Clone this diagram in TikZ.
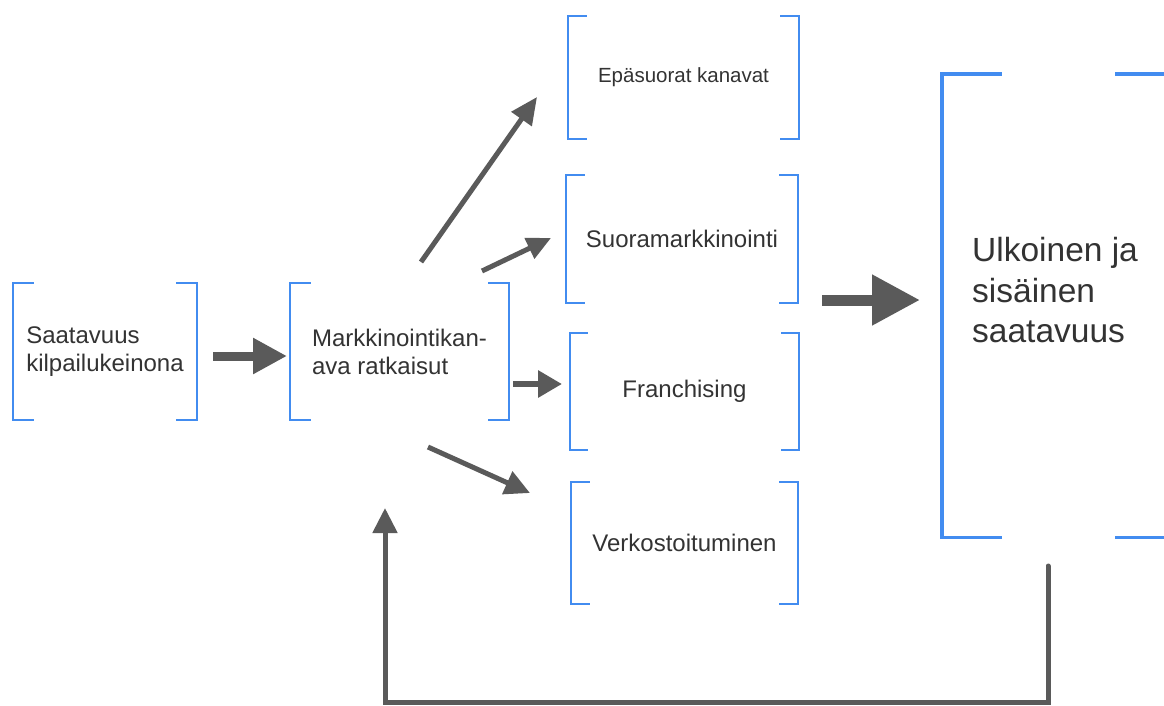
\documentclass[tikz,border=0pt]{standalone}
\usepackage{fontspec}
\setmainfont{Liberation Sans}
\usetikzlibrary{arrows.meta}
\definecolor{brblue}{RGB}{66,140,240}
\definecolor{argray}{RGB}{90,90,90}
\definecolor{txt}{RGB}{51,51,51}
\tikzset{
  box/.style={inner sep=0pt, text=txt, align=left},
  smalltxt/.style={font=\fontsize{24}{28}\selectfont},
  bracketline/.style={draw=brblue, line width=2.2pt},
  bigbracket/.style={draw=brblue, line width=3.4pt},
  fat/.style={draw=argray, line cap=butt},
}
\newcommand{\brackets}[3]{%
  \draw[#3] ([xshift=#2]#1.north west) -| (#1.south west) -- ++(#2,0);
  \draw[#3] ([xshift=-#2]#1.north east) -| (#1.south east) -- ++(-#2,0);
}
\begin{document}
\begin{tikzpicture}[x=1pt,y=-1pt]
\useasboundingbox (0,0) rectangle (1164,705);
\fill[white] (0,0) rectangle (1164,705);

% boxes
\node[box, smalltxt, minimum width=184pt, minimum height=137pt] (sk) at (105,351.5) {Saatavuus\\kilpailukeinona};
\node[box, smalltxt, minimum width=219pt, minimum height=137pt] (mk) at (399.5,351.5) {Markkinointikan-\\ava ratkaisut};
\node[box, font=\fontsize{20.5}{24}\selectfont, minimum width=231pt, minimum height=123pt] (ep) at (683.5,77.5) {Epäsuorat kanavat};
\node[box, smalltxt, minimum width=232pt, minimum height=128pt] (su) at (682,239) {Suoramarkkinointi};
\node[box, smalltxt, minimum width=229pt, minimum height=117pt] (fr) at (684.5,391.5) {Franchising};
\node[box, smalltxt, minimum width=227pt, minimum height=122pt] (ve) at (684.5,543) {Verkostoituminen};
\node[box, minimum width=233pt, minimum height=463pt] (ul) at (1058.5,305.5) {};
\node[box, font=\fontsize{33.5}{40.5}\selectfont, anchor=north west] (ult) at (972,237.5) {Ulkoinen ja\\sisäinen\\saatavuus};

\brackets{sk}{21}{bracketline}
\brackets{mk}{21}{bracketline}
\brackets{ep}{19}{bracketline}
\brackets{su}{19}{bracketline}
\brackets{fr}{18}{bracketline}
\brackets{ve}{19}{bracketline}
\brackets{ul}{60}{bigbracket}

% arrow coordinates
\coordinate (a1s) at (213,356); \coordinate (a1e) at (287,356);
\coordinate (a2s) at (421,262); \coordinate (a2e) at (537,97);
\coordinate (a3s) at (482,271); \coordinate (a3e) at (551,238);
\coordinate (a4s) at (513,384); \coordinate (a4e) at (562,384);
\coordinate (a5s) at (428,447); \coordinate (a5e) at (530,493);
\coordinate (a6s) at (822,300); \coordinate (a6e) at (920,300);
\coordinate (fbs) at (1048,566);
\coordinate (fbc1) at (1048,702);
\coordinate (fbc2) at (385,702);
\coordinate (fbe) at (385,508);

\draw[fat, line width=9pt, -{Triangle[length=34pt,width=34pt]}] (a1s) -- (a1e);
\draw[fat, line width=5pt, -{Triangle[length=27pt,width=24pt]}] (a2s) -- (a2e);
\draw[fat, line width=5pt, -{Triangle[length=24pt,width=22pt]}] (a3s) -- (a3e);
\draw[fat, line width=6pt, -{Triangle[length=24pt,width=26pt]}] (a4s) -- (a4e);
\draw[fat, line width=5pt, -{Triangle[length=25pt,width=24pt]}] (a5s) -- (a5e);
\draw[fat, line width=11pt, -{Triangle[length=48pt,width=48pt]}] (a6s) -- (a6e);
\draw[draw=argray, line width=5pt, line cap=round, line join=miter, -{Triangle[length=25pt,width=24pt]}] (fbs) -- (fbc1) -- (fbc2) -- (fbe);
\end{tikzpicture}
\end{document}
